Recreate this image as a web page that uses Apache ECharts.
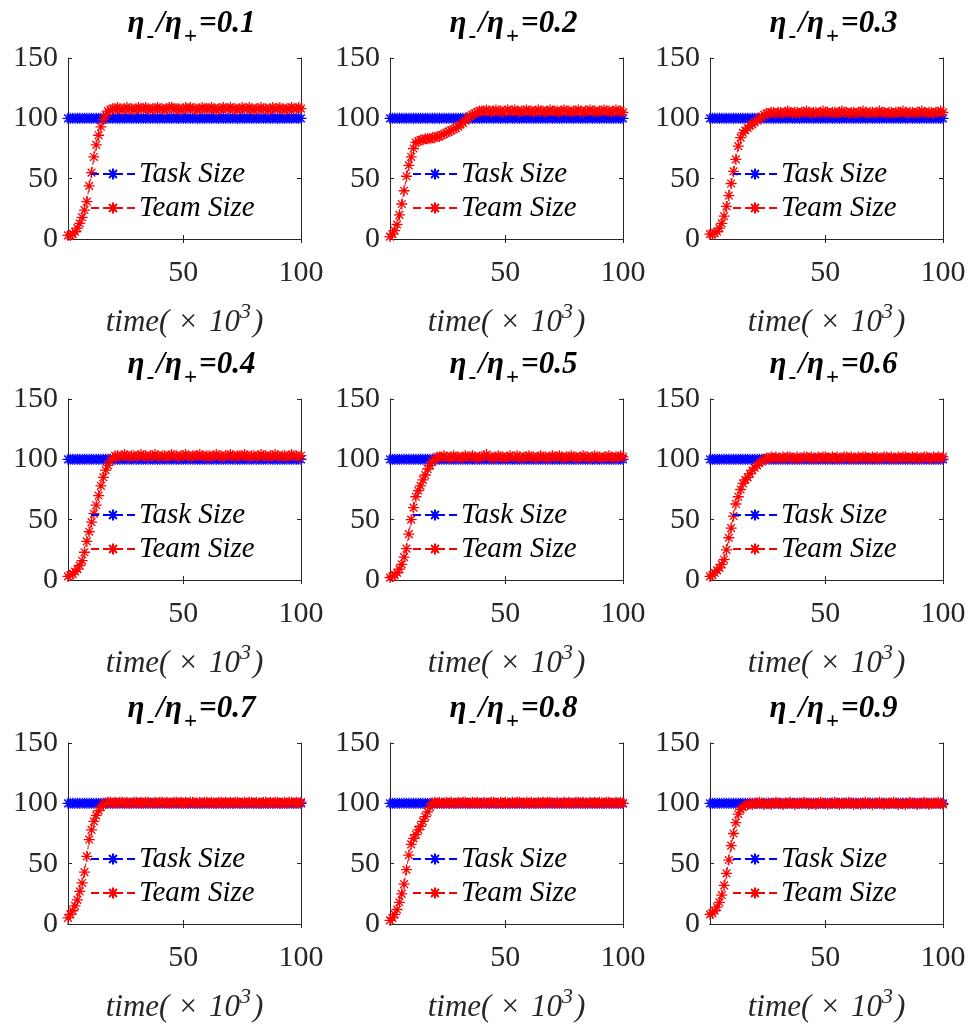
<!DOCTYPE html>
<html>
<head>
<meta charset="utf-8">
<script src="https://cdn.jsdelivr.net/npm/echarts@6/dist/echarts.min.js"></script>
<style>
  html, body { margin: 0; background: #fff; }
  #main { width: 972px; height: 1026px; }
</style>
</head>
<body>
<div id="main"></div>
<script>
// ratio eta-/eta+ for each panel
const ratios = ['0.1', '0.2', '0.3', '0.4', '0.5', '0.6', '0.7', '0.8', '0.9'];

// time steps (x 10^3)
const time = Array.from({ length: 100 }, (_, i) => i + 1);

const yTicks = [0, 50, 100, 150];
const xTickLabels = ['50', '100'];

// task size, same in every panel
const taskSize = [
  100,100,100,100,100,100,100,100,100,100,
  100,100,100,100,100,100,100,100,100,100,
  100,100,100,100,100,100,100,100,100,100,
  100,100,100,100,100,100,100,100,100,100,
  100,100,100,100,100,100,100,100,100,100,
  100,100,100,100,100,100,100,100,100,100,
  100,100,100,100,100,100,100,100,100,100,
  100,100,100,100,100,100,100,100,100,100,
  100,100,100,100,100,100,100,100,100,100,
  100,100,100,100,100,100,100,100,100,100
];

// team size per ratio
const team01 = [
  3,3,4,6,9,13,18,24,31,44, 55,68,78,86,93,99,103,106,107,108,
  108,109,108,107,108,109,108,108,107,108, 109,108,108,109,108,107,108,108,109,108,
  108,107,108,109,109,108,108,108,107,108, 109,108,109,108,108,107,108,109,108,108,
  108,109,108,107,108,108,109,108,108,109, 108,108,107,108,109,108,108,109,108,107,
  108,108,109,108,108,107,108,109,108,108, 109,108,107,108,108,109,108,108,109,108
];
const team02 = [
  2,4,7,12,20,29,40,52,61,68, 75,80,81,82,82,83,83,83,84,84,
  85,85,86,87,88,89,90,91,92,93, 95,96,98,100,102,103,104,105,106,106,
  106,107,106,105,106,107,106,106,105,106, 107,106,106,107,106,105,106,106,107,106,
  106,105,106,107,106,106,105,106,107,106, 106,106,105,106,107,106,106,105,106,106,
  107,106,105,106,106,107,106,106,105,106, 106,107,106,106,105,106,107,106,106,105
];
const team03 = [
  4,4,5,6,9,13,19,27,36,46, 56,66,77,84,88,90,92,94,95,97,
  98,100,101,103,104,104,105,105,
  104,105,105,104,105,106,105,104,105,105, 104,105,105,106,105,104,105,105,104,105,
  106,105,105,104,105,105,104,105,106,105, 105,104,105,105,104,105,105,106,105,104,
  105,105,104,105,106,105,105,104,105,105, 104,105,105,105,106,105,104,105,105,104,
  105,105,106,105,104,105,105,104,105,105, 106,105
];
const team04 = [
  3,4,5,7,9,12,16,23,32,40, 48,55,62,70,78,85,91,95,99,101,
  103,
  103,102,103,104,103,102,103,103,102,103, 104,103,103,102,103,103,104,103,102,103,
  103,102,103,104,103,103,102,103,103,104, 103,102,103,103,103,104,103,102,103,103,
  102,103,104,103,103,102,103,103,104,103, 102,103,103,103,104,103,102,103,103,102,
  103,104,103,103,102,103,103,104,103,102, 103,103,102,103,104,103,103,102,103
];
const team05 = [
  2,3,4,6,9,13,19,26,38,50, 60,69,74,78,83,87,92,95,98,100,
  102,102,
  102,103,102,101,102,103,102,102,101,102, 103,102,102,103,102,101,102,102,103,104,
  102,102,101,102,103,102,102,101,102,103, 102,102,103,102,101,102,102,103,102,102,
  101,102,103,102,102,101,102,103,102,102, 103,102,101,102,102,103,102,102,101,102,
  103,102,102,101,102,103,102,102,101,102, 102,103,102,101,102,102,103,102
];
const team06 = [
  3,4,6,8,10,13,17,25,35,43, 53,63,69,75,80,83,85,88,91,93,
  95,97,98,100,101,101,
  102,101,102,101,101,102,101,102,102,101, 101,102,101,101,102,102,101,102,101,101,
  102,101,102,102,101,101,102,101,102,101, 101,102,102,101,102,101,101,102,101,102,
  102,101,101,102,101,102,101,101,102,102, 101,102,101,101,102,101,102,102,101,101,
  102,101,102,101,101,102,102,101,101,102, 101,102,101,102
];
const team07 = [
  5,8,11,15,20,27,34,43,56,70, 78,85,90,94,97,99,100,101,101,
  100,101,100,101,101,100,101,100,100,101, 101,100,101,100,101,101,100,100,101,100,
  101,101,100,101,100,100,101,101,100,101, 100,101,100,101,101,100,100,101,100,101,
  101,100,101,100,100,101,101,100,101,100, 101,100,101,101,100,100,101,100,101,101,
  100,101,100,100,101,101,100,101,100,101, 101,100,100,101,100,101,101,100,101,100,
  101
];
const team08 = [
  3,5,8,12,18,25,33,45,57,66, 71,74,78,81,85,89,93,97,100,101,
  100,101,100,100,101,100,101,100,100,101, 100,101,101,100,100,101,100,101,100,100,
  101,100,100,101,101,100,100,101,100,101, 100,100,101,100,101,101,100,100,101,100,
  101,100,100,101,100,101,100,101,101,100, 100,101,100,100,101,100,101,100,100,101,
  101,100,101,100,100,101,100,101,100,101, 100,100,101,101,100,100,101,100,101,100
];
const team09 = [
  8,9,11,14,18,24,32,42,53,65, 75,84,91,95,97,98,99,
  100,99,100,100,101,100,99,100,100,99, 100,101,100,100,99,100,100,101,100,99,
  100,100,100,101,100,99,100,100,99,100, 101,100,100,99,100,100,101,100,99,100,
  100,100,101,100,99,100,100,99,100,101, 100,100,99,100,100,101,100,99,100,100,
  100,101,100,99,100,100,99,100,101,100, 100,99,100,100,101,100,99,100,100,100,
  101,100,99
];
const teamSize = [team01, team02, team03, team04, team05, team06, team07, team08, team09];

// layout of the 3x3 panels
const colLeft = [68, 390, 710];
const rowTop = [58, 399, 743];
const gridW = 233;
const gridH = 181;

const FONT = "'Liberation Serif', 'Times New Roman', serif";
const AXIS_COLOR = '#262626';
// asterisk marker like matlab '*'
const STAR = 'path://M0,-10L0,10M-10,0L10,0M-7,-7L7,7M-7,7L7,-7';

var grids = [], xAxes = [], yAxes = [], titles = [], legends = [], series = [];

function tickAt(idx, val) {
  return xTickLabels.indexOf(String(val)) >= 0;
}

for (let i = 0; i < 9; i++) {
  const left = colLeft[i % 3];
  const top = rowTop[Math.floor(i / 3)];

  grids.push({ left: left, top: top, width: gridW, height: gridH });

  titles.push({
    text: '{e|η}{s|-}{e|/η}{s|+}{b|=' + ratios[i] + '}',
    left: left + gridW / 2 + 2,
    textAlign: 'center',
    top: top - 65,
    textStyle: {
      rich: {
        e: { fontFamily: FONT, fontStyle: 'italic', fontSize: 31, color: '#000' },
        s: { fontFamily: FONT, fontSize: 23, color: '#000', padding: [28, 2, 0, 2] },
        b: { fontFamily: FONT, fontStyle: 'italic', fontWeight: 'bold', fontSize: 31, color: '#000' }
      }
    }
  });

  // bottom axis with labels
  xAxes.push({
    type: 'category',
    gridIndex: i,
    data: time,
    boundaryGap: false,
    axisLine: { lineStyle: { color: AXIS_COLOR, width: 1 } },
    axisTick: { inside: true, length: 4, interval: tickAt, lineStyle: { color: AXIS_COLOR } },
    axisLabel: { interval: tickAt, fontFamily: FONT, fontSize: 30, color: AXIS_COLOR, margin: 19 },
    splitLine: { show: false },
    name: '{i|time(}{n|×}{i|10}{p|3}{i|)}',
    nameLocation: 'middle',
    nameGap: 62,
    nameTextStyle: {
      rich: {
        i: { fontFamily: FONT, fontStyle: 'italic', fontSize: 31, color: AXIS_COLOR },
        n: { fontFamily: FONT, fontSize: 31, color: AXIS_COLOR, padding: [0, 12, 0, 10] },
        p: { fontFamily: FONT, fontStyle: 'italic', fontSize: 22, color: AXIS_COLOR, padding: [0, 2, 22, 0] }
      }
    }
  });
  // top axis, ticks only (box)
  xAxes.push({
    type: 'category',
    gridIndex: i,
    position: 'top',
    data: time,
    boundaryGap: false,
    axisLine: { lineStyle: { color: AXIS_COLOR, width: 1 } },
    axisTick: { inside: true, length: 4, interval: tickAt, lineStyle: { color: AXIS_COLOR } },
    axisLabel: { show: false },
    splitLine: { show: false }
  });

  yAxes.push({
    type: 'value',
    gridIndex: i,
    min: yTicks[0],
    max: yTicks[yTicks.length - 1],
    interval: 50,
    axisLine: { show: true, lineStyle: { color: AXIS_COLOR, width: 1 } },
    axisTick: { show: true, inside: true, length: 4, lineStyle: { color: AXIS_COLOR } },
    axisLabel: { fontFamily: FONT, fontSize: 30, color: AXIS_COLOR, margin: 10 },
    splitLine: { show: false }
  });
  yAxes.push({
    type: 'value',
    gridIndex: i,
    position: 'right',
    min: yTicks[0],
    max: yTicks[yTicks.length - 1],
    interval: 50,
    axisLine: { show: true, lineStyle: { color: AXIS_COLOR, width: 1 } },
    axisTick: { show: true, inside: true, length: 4, lineStyle: { color: AXIS_COLOR } },
    axisLabel: { show: false },
    splitLine: { show: false }
  });

  legends.push({
    data: ['Task Size', 'Team Size'],
    orient: 'vertical',
    left: left + 22,
    top: top + 101,
    itemWidth: 44,
    itemHeight: 14,
    itemGap: 4,
    padding: 0,
    selectedMode: false,
    textStyle: { fontFamily: FONT, fontStyle: 'italic', fontSize: 29, color: '#000', lineHeight: 30, padding: [0, 0, 0, -1] }
  });

  series.push({
    name: 'Task Size',
    type: 'line',
    xAxisIndex: 2 * i,
    yAxisIndex: 2 * i,
    data: taskSize,
    symbol: STAR,
    symbolSize: 11,
    showAllSymbol: true,
    lineStyle: { color: '#0000ff', width: 1, type: 'dashed' },
    itemStyle: { color: '#0000ff', borderColor: '#0000ff', borderWidth: 1.3 },
    silent: true
  });
  series.push({
    name: 'Team Size',
    type: 'line',
    xAxisIndex: 2 * i,
    yAxisIndex: 2 * i,
    data: teamSize[i],
    symbol: STAR,
    symbolSize: 11,
    showAllSymbol: true,
    lineStyle: { color: '#ff0000', width: 1, type: 'dashed' },
    itemStyle: { color: '#ff0000', borderColor: '#ff0000', borderWidth: 1.3 },
    silent: true
  });
}

var chart = echarts.init(document.getElementById('main'), null, { renderer: 'canvas' });
var option = {
  backgroundColor: '#fff',
  animation: false,
  title: titles,
  legend: legends,
  grid: grids,
  xAxis: xAxes,
  yAxis: yAxes,
  series: series
};
chart.setOption(option);
</script>
</body>
</html>
